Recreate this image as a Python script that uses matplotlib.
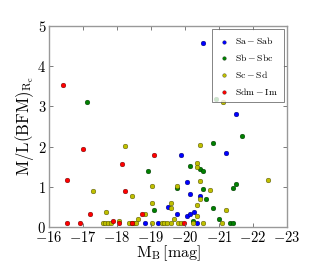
import numpy as np
import matplotlib
matplotlib.use('Agg')
import matplotlib.pyplot as plt
from matplotlib.ticker import FuncFormatter

plt.rcParams['mathtext.fontset'] = 'cm'
plt.rcParams['font.family'] = 'serif'
plt.rcParams['xtick.direction'] = 'in'
plt.rcParams['ytick.direction'] = 'in'
plt.rcParams['xtick.top'] = True
plt.rcParams['ytick.right'] = True

# Sa - Sab
sa_x = [-20.53, -21.49, -21.2, -19.87, -20.06, -20.15, -20.45, -19.5, -19.77,
        -20.07, -20.15, -20.26, -20.35, -18.83, -19.2]
sa_y = [4.58, 2.80, 1.84, 1.79, 1.11, 0.81, 0.76, 0.49, 0.32,
        0.27, 0.31, 0.37, 0.10, 0.10, 0.10]

# Sb - Sbc
sb_x = [-17.11, -20.92, -21.69, -20.82, -20.15, -20.45, -20.53, -18.92, -19.77,
        -20.53, -21.49, -21.4, -20.63, -20.82, -19.1, -21.01, -20.24, -21.31, -21.40]
sb_y = [3.10, 3.19, 2.25, 2.10, 1.52, 1.45, 1.40, 1.40, 0.96,
        0.95, 1.07, 0.96, 0.70, 0.47, 0.41, 0.21, 0.16, 0.10, 0.10]

# Sc - Sd
sc_x = [-21.11, -18.25, -20.45, -22.45, -17.3, -18.45, -19.02, -19.77, -20.35,
        -20.35, -20.45, -20.73, -20.45, -20.35, -19.58, -19.58, -19.02, -21.2,
        -17.67, -18.82, -18.63, -19.67, -20.35, -18.07,
        -17.58, -17.66, -17.74, -17.82, -18.35, -18.43, -18.51, -18.56, -19.02,
        -19.31, -19.39, -19.47, -19.58, -19.78, -19.88, -20.24, -20.53, -21.1]
sc_y = [3.10, 2.01, 2.05, 1.18, 0.90, 0.76, 1.03, 1.03, 1.59,
        1.48, 1.14, 0.92, 0.70, 0.54, 0.60, 0.48, 0.60, 0.43,
        0.37, 0.32, 0.20, 0.20, 0.27, 0.14,
        0.10, 0.10, 0.10, 0.10, 0.10, 0.10, 0.10, 0.10, 0.10,
        0.10, 0.10, 0.10, 0.10, 0.10, 0.10, 0.10, 0.10, 0.10]

# Sdm - Im
sd_x = [-16.42, -16.54, -17.01, -18.16, -19.1, -18.25, -17.2, -18.73, -17.87,
        -18.06, -16.54, -16.92, -18.44, -19.96]
sd_y = [3.53, 1.18, 1.95, 1.56, 1.79, 0.89, 0.32, 0.32, 0.15,
        0.10, 0.10, 0.10, 0.10, 0.10]

fig = plt.figure(figsize=(3.2, 2.67), dpi=100)
ax = fig.add_axes([0.153, 0.15, 0.744, 0.753])

kw = dict(s=12, edgecolors='k', linewidths=0.2)
ax.scatter(sa_x, sa_y, c='b', label=r'$\mathrm{Sa-Sab}$', **kw)
ax.scatter(sb_x, sb_y, c='g', label=r'$\mathrm{Sb-Sbc}$', **kw)
ax.scatter(sc_x, sc_y, c='y', label=r'$\mathrm{Sc-Sd}$', **kw)
ax.scatter(sd_x, sd_y, c='r', label=r'$\mathrm{Sdm-Im}$', **kw)

ax.set_xlim(-16, -23)
ax.set_ylim(0, 5)
ax.set_xticks(np.arange(-16, -24, -1))
ax.set_yticks(np.arange(0, 6, 1))
fmt = FuncFormatter(lambda v, p: r'$%d$' % v)
ax.xaxis.set_major_formatter(fmt)
ax.yaxis.set_major_formatter(fmt)
ax.tick_params(labelsize=10.5, length=3, width=0.6, color='0.4', pad=2)
for sp in ax.spines.values():
    sp.set_color('0.6')
    sp.set_linewidth(1.0)

ax.set_xlabel(r'$\mathrm{M_B\,[mag]}$', fontsize=11.5, labelpad=-1)
ax.set_ylabel(r'$\mathrm{M/L(BFM)_{R_c}}$', fontsize=12, labelpad=1)

leg = ax.legend(loc='upper right', fontsize=7, scatterpoints=1, markerscale=0.75,
                fancybox=False, borderpad=0.6, labelspacing=0.6, handlelength=1.2,
                handletextpad=0.5, borderaxespad=0.35)
leg.get_frame().set_edgecolor('0.3')
leg.get_frame().set_linewidth(0.6)

fig.savefig('out.png', dpi=100)
